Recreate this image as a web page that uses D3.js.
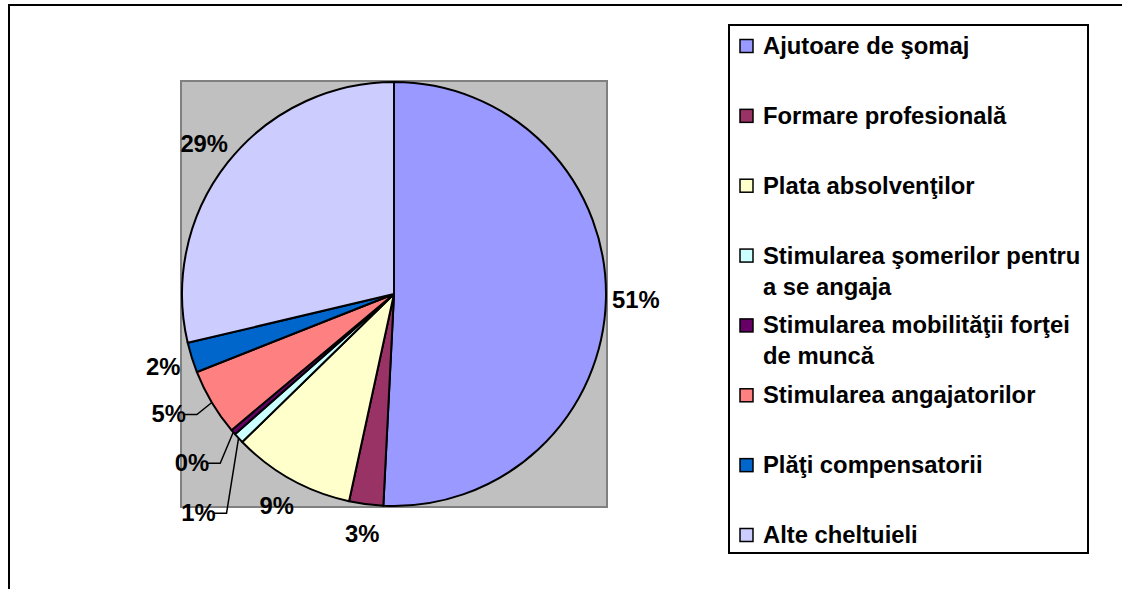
<!DOCTYPE html>
<html>
<head>
<meta charset="utf-8">
<script src="https://cdn.jsdelivr.net/npm/d3@7"></script>
<style>
  html, body { margin: 0; padding: 0; background: #fff; }
  svg { display: block; }
  text { font-family: "Liberation Sans", Arial, sans-serif; font-weight: bold; fill: #000; }
</style>
</head>
<body>
<svg id="chart" width="1122" height="589"></svg>
<script>
// Structura cheltuielilor (procente din total)
const categories = [
  "Ajutoare de şomaj",
  "Formare profesională",
  "Plata absolvenţilor",
  "Stimularea şomerilor pentru a se angaja",
  "Stimularea mobilităţii forţei de muncă",
  "Stimularea angajatorilor",
  "Plăţi compensatorii",
  "Alte cheltuieli"
];
const values = [50.8, 2.6, 9.3, 0.8, 0.4, 5.1, 2.3, 28.7];
const colors = ["#9999FF", "#993366", "#FFFFCC", "#CCFFFF", "#660066", "#FF8080", "#0066CC", "#CCCCFF"];

const svg = d3.select("#chart");
const fontSize = 23.8;

// chart frame
svg.append("rect")
  .attr("x", 9).attr("y", 5).attr("width", 1300).attr("height", 800)
  .attr("fill", "#fff").attr("stroke", "#000").attr("stroke-width", 2);

// plot area
const plot = { x: 181, y: 81, w: 426, h: 426 };
svg.append("rect")
  .attr("x", plot.x).attr("y", plot.y).attr("width", plot.w).attr("height", plot.h)
  .attr("fill", "#C0C0C0").attr("stroke", "#808080").attr("stroke-width", 2);

const cx = plot.x + plot.w / 2, cy = plot.y + plot.h / 2;
const R = 212;

const total = d3.sum(values);
const pie = d3.pie().sort(null).value(d => d)(values);
const arc = d3.arc().innerRadius(0).outerRadius(R);

const g = svg.append("g").attr("transform", `translate(${cx},${cy})`);
g.selectAll("path.slice").data(pie).join("path")
  .attr("class", "slice")
  .attr("d", arc)
  .attr("fill", (d, i) => colors[i])
  .attr("stroke", "#000").attr("stroke-width", 2).attr("stroke-linejoin", "round");

const fmt = v => Math.round(v / total * 100) + "%";
const mid = d => (d.startAngle + d.endAngle) / 2;
const polar = (a, r) => [Math.sin(a) * r, -Math.cos(a) * r];

// labels pulled away from crowded slices, with leader lines (offset of the text end from the rim)
const pulled = { 3: [-25, 75], 4: [-26, 31], 5: [-28, 12] };
const labelR = 242;

pie.forEach((d, i) => {
  const a = mid(d);
  const txt = fmt(values[i]);
  if (pulled[i]) {
    const [ex, ey] = polar(a, R);
    const tx = ex + pulled[i][0], ty = ey + pulled[i][1];
    g.append("path")
      .attr("d", `M${ex},${ey}L${tx + 13},${ty}L${tx},${ty}`)
      .attr("fill", "none").attr("stroke", "#000").attr("stroke-width", 1.5);
    g.append("text")
      .attr("x", tx + 2).attr("y", ty + 8)
      .attr("text-anchor", "end")
      .attr("font-size", fontSize)
      .text(txt);
  } else {
    const [lx, ly] = polar(a, labelR);
    g.append("text")
      .attr("x", lx).attr("y", ly + 8)
      .attr("text-anchor", "middle")
      .attr("font-size", fontSize)
      .text(txt);
  }
});

// legend
const leg = { x: 729, y: 25, w: 359, h: 528 };
svg.append("rect")
  .attr("x", leg.x).attr("y", leg.y).attr("width", leg.w).attr("height", leg.h)
  .attr("fill", "#fff").attr("stroke", "#000").attr("stroke-width", 2);

const rowY = d3.scalePoint().domain(categories).range([46, 535]);
const maxTextW = 322;
const lineH = 31;

categories.forEach((name, i) => {
  const y = rowY(name);
  svg.append("rect")
    .attr("x", 740).attr("y", y - 6.5).attr("width", 13).attr("height", 13)
    .attr("fill", colors[i]).attr("stroke", "#000").attr("stroke-width", 1.5);
  const t = svg.append("text")
    .attr("x", 763).attr("y", y + 8)
    .attr("font-size", fontSize);
  // wrap words into lines that fit the legend box
  const words = name.split(" ");
  let line = [];
  let ts = t.append("tspan").attr("x", 763).attr("dy", 0);
  words.forEach(w => {
    line.push(w);
    ts.text(line.join(" "));
    if (ts.node().getComputedTextLength() > maxTextW && line.length > 1) {
      line.pop();
      ts.text(line.join(" "));
      line = [w];
      ts = t.append("tspan").attr("x", 763).attr("dy", lineH).text(w);
    }
  });
});
</script>
</body>
</html>
